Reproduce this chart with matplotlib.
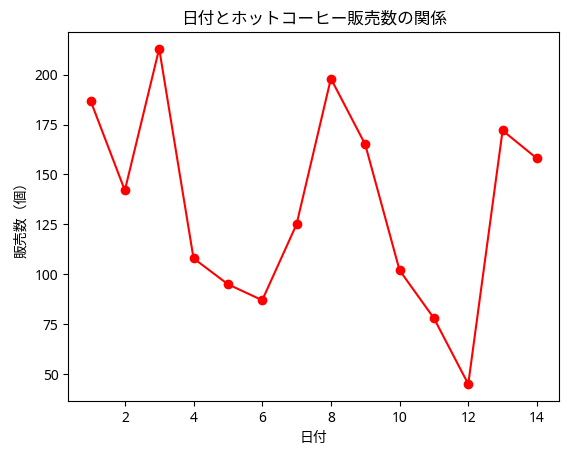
import matplotlib
matplotlib.use("Agg")
import matplotlib.pyplot as plt

# digits from Noto Sans, Japanese falls back to the CJK family
plt.rcParams['font.family'] = ['Noto Sans', 'Noto Sans CJK JP', 'DejaVu Sans']

days = [1, 2, 3, 4, 5, 6, 7, 8, 9, 10, 11, 12, 13, 14]
sales = [187, 142, 213, 108, 95, 87, 125, 198, 165, 102, 78, 45, 172, 158]

fig, ax = plt.subplots(figsize=(5.73, 4.55), dpi=100)
fig.subplots_adjust(left=0.119, right=0.976, top=0.930, bottom=0.119)

ax.plot(days, sales, color='red', marker='o')
ax.set_title('日付とホットコーヒー販売数の関係')
ax.set_xlabel('日付')
ax.set_ylabel('販売数（個）')

fig.savefig('out.png')
